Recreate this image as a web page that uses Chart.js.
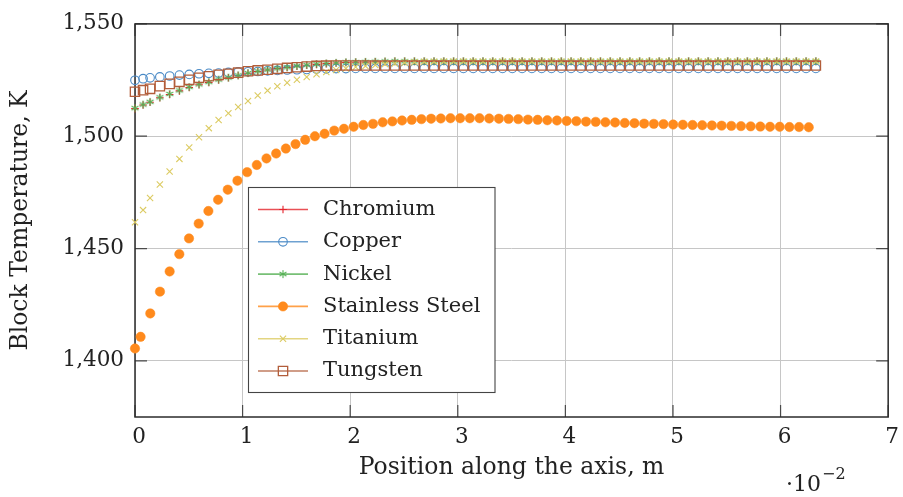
<!DOCTYPE html>
<html>
<head>
<meta charset="utf-8">
<script src="https://cdn.jsdelivr.net/npm/chart.js@4.4.0/dist/chart.umd.min.js"></script>
<style>
  html, body { margin: 0; padding: 0; background: #fff; }
  #wrap { width: 903px; height: 497px; }
</style>
</head>
<body>
<div id="wrap"><canvas id="tempChart"></canvas></div>
<script>
// positions along the axis, in units of 1e-2 m
const positionMetal = [
  0, 0.075, 0.14, 0.231, 0.322, 0.413, 0.504, 0.595, 0.686, 0.777,
  0.868, 0.959, 1.05, 1.141, 1.232, 1.323, 1.414, 1.505, 1.596, 1.687,
  1.778, 1.869, 1.96, 2.051, 2.142, 2.233, 2.324, 2.415, 2.506, 2.597,
  2.688, 2.779, 2.87, 2.961, 3.052, 3.143, 3.234, 3.325, 3.416, 3.507,
  3.598, 3.689, 3.78, 3.871, 3.962, 4.053, 4.144, 4.235, 4.326, 4.417,
  4.508, 4.599, 4.69, 4.781, 4.872, 4.963, 5.054, 5.145, 5.236, 5.327,
  5.418, 5.509, 5.6, 5.691, 5.782, 5.873, 5.964, 6.055, 6.146, 6.237,
  6.328
];
const positionSteel = [
  0, 0.052, 0.142, 0.232, 0.322, 0.412, 0.502, 0.592, 0.682, 0.772,
  0.862, 0.952, 1.042, 1.132, 1.222, 1.312, 1.402, 1.492, 1.582, 1.672,
  1.762, 1.852, 1.942, 2.032, 2.122, 2.212, 2.302, 2.392, 2.482, 2.572,
  2.662, 2.752, 2.842, 2.932, 3.022, 3.112, 3.202, 3.292, 3.382, 3.472,
  3.562, 3.652, 3.742, 3.832, 3.922, 4.012, 4.102, 4.192, 4.282, 4.372,
  4.462, 4.552, 4.642, 4.732, 4.822, 4.912, 5.002, 5.092, 5.182, 5.272,
  5.362, 5.452, 5.542, 5.632, 5.722, 5.812, 5.902, 5.992, 6.082, 6.172,
  6.262
];

// block temperature, K
const chromium = [
  1512.3, 1513.9, 1515.1, 1517.1, 1518.6, 1520.2, 1521.7, 1522.9, 1523.9, 1525.0,
  1526.0, 1527.0, 1528.0, 1528.8, 1529.5, 1530.1, 1530.6, 1531.2, 1531.6, 1532.0,
  1532.3, 1532.6, 1532.8, 1532.9, 1533.0, 1533.1, 1533.2, 1533.3, 1533.3, 1533.3,
  1533.3, 1533.3, 1533.3, 1533.3, 1533.3, 1533.3, 1533.3, 1533.3, 1533.3, 1533.3,
  1533.3, 1533.3, 1533.3, 1533.3, 1533.3, 1533.3, 1533.3, 1533.3, 1533.3, 1533.3,
  1533.3, 1533.3, 1533.3, 1533.3, 1533.3, 1533.3, 1533.3, 1533.3, 1533.3, 1533.3,
  1533.3, 1533.3, 1533.3, 1533.3, 1533.3, 1533.3, 1533.3, 1533.3, 1533.3, 1533.3,
  1533.3
];
const copper = [
  1524.9, 1525.6, 1526.0, 1526.4, 1526.8, 1527.2, 1527.5, 1527.8, 1528.0, 1528.1,
  1528.4, 1528.6, 1528.7, 1528.8, 1529.1, 1529.3, 1529.5, 1529.6, 1529.7, 1529.9,
  1530.0, 1530.1, 1530.1, 1530.2, 1530.2, 1530.2, 1530.2, 1530.2, 1530.2, 1530.2,
  1530.2, 1530.2, 1530.2, 1530.2, 1530.2, 1530.2, 1530.2, 1530.2, 1530.2, 1530.2,
  1530.2, 1530.2, 1530.2, 1530.2, 1530.2, 1530.2, 1530.2, 1530.2, 1530.2, 1530.2,
  1530.2, 1530.2, 1530.2, 1530.2, 1530.2, 1530.2, 1530.2, 1530.2, 1530.2, 1530.2,
  1530.2, 1530.2, 1530.2, 1530.2, 1530.2, 1530.2, 1530.2, 1530.2, 1530.2, 1530.2,
  1530.2
];
const nickel = [
  1512.5, 1514.1, 1515.3, 1517.3, 1518.8, 1520.4, 1521.9, 1523.1, 1524.1, 1525.2,
  1526.1, 1527.1, 1528.1, 1528.9, 1529.6, 1530.2, 1530.7, 1531.3, 1531.7, 1532.1,
  1532.4, 1532.7, 1532.9, 1533.0, 1533.1, 1533.2, 1533.3, 1533.4, 1533.4, 1533.4,
  1533.4, 1533.4, 1533.4, 1533.4, 1533.4, 1533.4, 1533.4, 1533.4, 1533.4, 1533.4,
  1533.4, 1533.4, 1533.4, 1533.4, 1533.4, 1533.4, 1533.4, 1533.4, 1533.4, 1533.4,
  1533.4, 1533.4, 1533.4, 1533.4, 1533.4, 1533.4, 1533.4, 1533.4, 1533.4, 1533.4,
  1533.4, 1533.4, 1533.4, 1533.4, 1533.4, 1533.4, 1533.4, 1533.4, 1533.4, 1533.4,
  1533.4
];
const stainlessSteel = [
  1405.5, 1410.7, 1421.1, 1430.8, 1439.8, 1447.5, 1454.5, 1461.1, 1466.7, 1471.7,
  1476.2, 1480.2, 1484.0, 1487.2, 1490.1, 1492.3, 1494.5, 1496.5, 1498.4, 1500.0,
  1501.1, 1502.5, 1503.3, 1504.2, 1505.0, 1505.5, 1506.2, 1506.6, 1507.0, 1507.3,
  1507.6, 1507.8, 1507.9, 1508.0, 1508.0, 1508.0, 1508.0, 1507.9, 1507.8, 1507.7,
  1507.6, 1507.4, 1507.3, 1507.1, 1507.0, 1506.8, 1506.7, 1506.5, 1506.4, 1506.2,
  1506.1, 1505.9, 1505.8, 1505.6, 1505.5, 1505.4, 1505.2, 1505.1, 1505.0, 1504.9,
  1504.8, 1504.7, 1504.6, 1504.5, 1504.4, 1504.3, 1504.2, 1504.2, 1504.1, 1504.1,
  1504.0
];
const titanium = [
  1461.7, 1467.1, 1472.5, 1478.5, 1484.3, 1489.9, 1495.0, 1499.5, 1503.6, 1507.2,
  1510.2, 1513.0, 1515.7, 1518.1, 1520.3, 1522.2, 1523.8, 1525.1, 1526.4, 1527.6,
  1528.6, 1529.5, 1530.2, 1530.8, 1531.3, 1531.7, 1532.1, 1532.4, 1532.7, 1532.9,
  1533.1, 1533.2, 1533.3, 1533.3, 1533.3, 1533.3, 1533.3, 1533.3, 1533.3, 1533.3,
  1533.3, 1533.3, 1533.3, 1533.3, 1533.3, 1533.3, 1533.3, 1533.3, 1533.3, 1533.3,
  1533.3, 1533.3, 1533.3, 1533.3, 1533.3, 1533.3, 1533.3, 1533.3, 1533.3, 1533.3,
  1533.3, 1533.3, 1533.3, 1533.3, 1533.3, 1533.3, 1533.3, 1533.3, 1533.3, 1533.3,
  1533.3
];
const tungsten = [
  1519.8, 1520.5, 1521.1, 1522.3, 1523.3, 1524.2, 1525.1, 1526.0, 1526.7, 1527.3,
  1527.8, 1528.3, 1528.9, 1529.3, 1529.6, 1530.0, 1530.4, 1530.7, 1531.0, 1531.3,
  1531.4, 1531.5, 1531.5, 1531.5, 1531.5, 1531.5, 1531.5, 1531.5, 1531.5, 1531.5,
  1531.5, 1531.5, 1531.5, 1531.5, 1531.5, 1531.5, 1531.5, 1531.5, 1531.5, 1531.5,
  1531.5, 1531.5, 1531.5, 1531.5, 1531.5, 1531.5, 1531.5, 1531.5, 1531.5, 1531.5,
  1531.5, 1531.5, 1531.5, 1531.5, 1531.5, 1531.5, 1531.5, 1531.5, 1531.5, 1531.5,
  1531.5, 1531.5, 1531.5, 1531.5, 1531.5, 1531.5, 1531.5, 1531.5, 1531.5, 1531.5,
  1531.5
];

const xTicks = [0, 1, 2, 3, 4, 5, 6, 7];
const yTicks = [1400, 1450, 1500, 1550];

const FONT = "'DejaVu Serif', serif";

// six-spoke asterisk mark
function asteriskMark(color, r) {
  const c = document.createElement('canvas');
  const s = Math.ceil(r * 2 + 4);
  c.width = s; c.height = s;
  const g = c.getContext('2d');
  g.strokeStyle = color;
  g.lineWidth = 1.1;
  g.translate(s / 2, s / 2);
  for (let i = 0; i < 3; i++) {
    const a = Math.PI / 2 + i * Math.PI / 3;
    g.beginPath();
    g.moveTo(Math.cos(a) * r, Math.sin(a) * r);
    g.lineTo(-Math.cos(a) * r, -Math.sin(a) * r);
    g.stroke();
  }
  return c;
}

function toPoints(xs, ys) {
  return ys.map((y, i) => ({ x: xs[i], y }));
}

const series = [
  { label: 'Chromium', xs: positionMetal, ys: chromium, color: '#e4242c',
    pointStyle: 'cross', radius: 3.8, borderWidth: 1.1, fill: false },
  { label: 'Copper', xs: positionMetal, ys: copper, color: '#4a8ac6',
    pointStyle: 'circle', radius: 4.3, borderWidth: 1.1, fill: false },
  { label: 'Nickel', xs: positionMetal, ys: nickel, color: '#55b054',
    pointStyle: asteriskMark('#55b054', 4), radius: 4, borderWidth: 1.1, fill: false },
  { label: 'Stainless Steel', xs: positionSteel, ys: stainlessSteel, color: '#ff8a1c',
    pointStyle: 'circle', radius: 4.7, borderWidth: 0.5, fill: true },
  { label: 'Titanium', xs: positionMetal, ys: titanium, color: '#dccb62',
    pointStyle: 'crossRot', radius: 4.4, borderWidth: 1.1, fill: false },
  { label: 'Tungsten', xs: positionMetal, ys: tungsten, color: '#b25d3a',
    pointStyle: 'rect', radius: 6.6, borderWidth: 1.3, fill: false }
];

const datasets = series.map((s, i) => ({
  label: s.label,
  data: toPoints(s.xs, s.ys),
  showLine: false,
  borderColor: s.color,
  backgroundColor: s.fill ? s.color : 'rgba(0,0,0,0)',
  pointStyle: s.pointStyle,
  pointRadius: s.radius,
  pointBorderWidth: s.borderWidth,
  clip: false,
  order: series.length - i
}));

// axis frame, inward ticks, axis titles and the legend box
const pgfDecor = {
  id: 'pgfDecor',
  beforeDatasetsDraw(chart) {
    const { ctx, chartArea: a, scales } = chart;
    ctx.save();
    ctx.strokeStyle = '#4a4a4a';
    ctx.lineWidth = 1.2;
    ctx.beginPath();
    xTicks.forEach(v => {
      const px = scales.x.getPixelForValue(v);
      ctx.moveTo(px, a.bottom); ctx.lineTo(px, a.bottom - 12);
      ctx.moveTo(px, a.top); ctx.lineTo(px, a.top + 12);
    });
    yTicks.forEach(v => {
      const py = scales.y.getPixelForValue(v);
      ctx.moveTo(a.left, py); ctx.lineTo(a.left + 12, py);
      ctx.moveTo(a.right, py); ctx.lineTo(a.right - 12, py);
    });
    ctx.stroke();
    ctx.strokeStyle = '#2b2b2b';
    ctx.lineWidth = 1.5;
    ctx.strokeRect(a.left, a.top, a.right - a.left, a.bottom - a.top);
    ctx.restore();
  },
  afterDraw(chart) {
    const { ctx, chartArea: a } = chart;
    ctx.save();
    ctx.fillStyle = '#222';
    ctx.font = '23.5px ' + FONT;
    ctx.textAlign = 'center';
    ctx.textBaseline = 'middle';
    ctx.fillText('Position along the axis, m', (a.left + a.right) / 2, 468);
    ctx.save();
    ctx.translate(21, (a.top + a.bottom) / 2);
    ctx.rotate(-Math.PI / 2);
    ctx.fillText('Block Temperature, K', 0, 0);
    ctx.restore();

    ctx.textAlign = 'left';
    ctx.textBaseline = 'alphabetic';
    ctx.font = '22px ' + FONT;
    ctx.fillText('\u00b710', 786, 491);
    const w = ctx.measureText('\u00b710').width;
    ctx.font = '16px ' + FONT;
    ctx.fillText('\u22122', 786 + w + 1, 479);

    // legend
    const box = { x: 248.5, y: 187.5, w: 246.5, h: 205 };
    ctx.fillStyle = '#fff';
    ctx.fillRect(box.x, box.y, box.w, box.h);
    ctx.strokeStyle = '#444';
    ctx.lineWidth = 1.1;
    ctx.strokeRect(box.x, box.y, box.w, box.h);
    chart.data.datasets.forEach((ds, i) => {
      const y = 209.5 + i * 32.3;
      ctx.globalAlpha = 0.8;
      ctx.strokeStyle = ds.borderColor;
      ctx.lineWidth = 1.6;
      ctx.beginPath();
      ctx.moveTo(258, y); ctx.lineTo(308, y);
      ctx.stroke();
      ctx.globalAlpha = 1;
      ctx.fillStyle = ds.backgroundColor;
      ctx.lineWidth = ds.pointBorderWidth;
      Chart.helpers.drawPoint(ctx, {
        pointStyle: ds.pointStyle,
        radius: ds.pointRadius,
        borderWidth: ds.pointBorderWidth,
        rotation: 0
      }, 283, y);
      ctx.fillStyle = '#222';
      ctx.font = '21px ' + FONT;
      ctx.textBaseline = 'middle';
      ctx.fillText(ds.label, 323, y);
    });
    ctx.restore();
  }
};

Chart.defaults.font.family = FONT;
Chart.defaults.font.size = 21.5;
Chart.defaults.color = '#222';

new Chart(document.getElementById('tempChart'), {
  type: 'scatter',
  data: { datasets },
  options: {
    responsive: true,
    maintainAspectRatio: false,
    animation: false,
    events: [],
    layout: { padding: { left: 0, right: 14, top: 19.6, bottom: 0 } },
    plugins: { legend: { display: false }, tooltip: { enabled: false } },
    scales: {
      x: {
        type: 'linear',
        min: 0,
        max: 7,
        afterBuildTicks: scale => { scale.ticks = xTicks.map(v => ({ value: v })); },
        afterFit: scale => { scale.height = 80; },
        ticks: { padding: 8, labelOffset: 4, maxRotation: 0, color: '#222' },
        grid: { color: '#c6c6c6', lineWidth: 1, drawTicks: false },
        border: { display: false }
      },
      y: {
        type: 'linear',
        min: 1375,
        max: 1550,
        afterBuildTicks: scale => { scale.ticks = yTicks.map(v => ({ value: v })); },
        afterFit: scale => { scale.width = 135; },
        ticks: { padding: 11, color: '#222' },
        grid: { color: '#c6c6c6', lineWidth: 1, drawTicks: false },
        border: { display: false }
      }
    }
  },
  plugins: [pgfDecor]
});
</script>
</body>
</html>
